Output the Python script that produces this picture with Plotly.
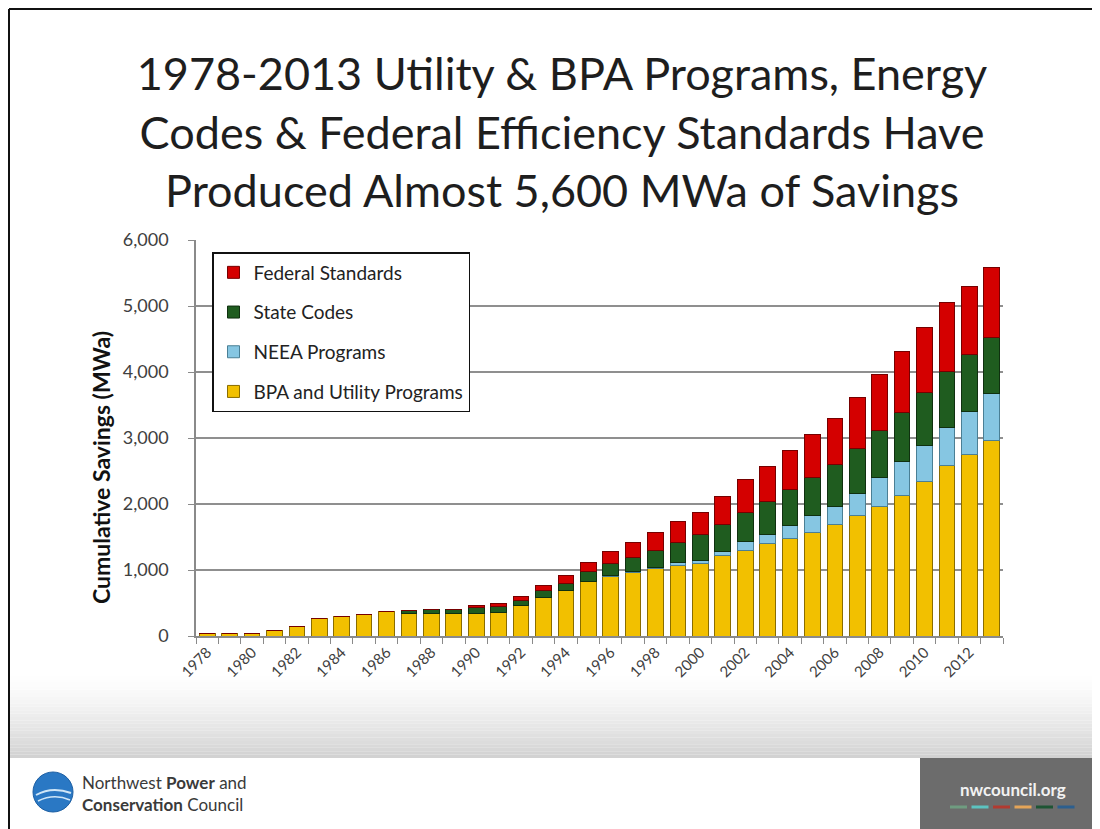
import plotly.graph_objects as go

# the page body adds an 8px margin, so the figure is drawn 8px smaller and shifted
OFF = 8
W, H = 1100 - OFF, 829 - OFF

years = list(range(1978, 2014))
bpa_utility = [35, 40, 45, 90, 150, 265, 300, 330, 365, 345, 345, 345,
               340, 360, 467, 580, 685, 820, 895, 955, 1020, 1075, 1100, 1220,
               1295, 1395, 1470, 1575, 1685, 1825, 1960, 2125, 2340, 2580, 2745, 2965]
neea = [0, 0, 0, 0, 0, 0, 0, 0, 0, 0, 0, 0,
        0, 0, 0, 5, 5, 10, 15, 20, 25, 35, 45, 65,
        140, 150, 210, 245, 275, 335, 440, 520, 540, 585, 650, 710]
state_codes = [0, 0, 0, 0, 0, 0, 0, 0, 0, 45, 50, 50,
               85, 90, 66, 100, 105, 140, 185, 220, 250, 310, 390, 410,
               440, 495, 540, 575, 645, 680, 715, 740, 815, 845, 865, 850]
federal = [0, 0, 0, 0, 0, 0, 0, 0, 0, 0, 0, 0,
           30, 45, 70, 85, 115, 150, 190, 225, 270, 320, 335, 420,
           490, 530, 595, 660, 690, 770, 845, 920, 980, 1045, 1030, 1055]

# name, values, fill, outline, legend position (top first)
series = [
    ("BPA and Utility Programs", bpa_utility, "#f2c000", "#8a6d00", 4),
    ("NEEA Programs", neea, "#86c6e2", "#4a7f95", 3),
    ("State Codes", state_codes, "#1f5c1f", "#0f300f", 2),
    ("Federal Standards", federal, "#d40000", "#760000", 1),
]


def px(x):
    return (x - OFF) / W


def py(y):
    return 1 - (y - OFF) / H


fig = go.Figure()
for name, vals, color, edge, rank in series:
    fig.add_trace(go.Bar(x=years, y=vals, name=name, legendgroup=name, legendrank=rank,
                         marker=dict(color=color, line=dict(color=edge, width=1))))

shapes = []
# grey fade behind the lower part of the slide
band_top, band_bot = 676, 758
steps = 24
for i in range(steps):
    y0 = band_top + (band_bot - band_top) * i / steps
    y1 = band_top + (band_bot - band_top) * (i + 1) / steps
    g = int(255 - 45 * ((i + 1) / steps) ** 1.4)
    shapes.append(dict(type="rect", xref="paper", yref="paper", layer="below",
                       x0=0, x1=1, y0=py(y1), y1=py(y0), line=dict(width=0),
                       fillcolor=f"rgb({g},{g},{g})"))
# footer box on the right
shapes.append(dict(type="rect", xref="paper", yref="paper", layer="below",
                   x0=px(920), x1=1, y0=0, y1=py(758), line=dict(width=0),
                   fillcolor="#6c6c6c"))
# coloured dashes under the web address
dash_colors = ["#6f9c80", "#5cc3c0", "#b23a30", "#e3a458", "#1e5534", "#2c5f8e"]
for i, c in enumerate(dash_colors):
    x0 = 950 + i * 21.5
    shapes.append(dict(type="line", xref="paper", yref="paper",
                       x0=px(x0), x1=px(x0 + 17), y0=py(807), y1=py(807),
                       line=dict(color=c, width=3)))
# logo disc
shapes.append(dict(type="circle", xref="paper", yref="paper",
                   x0=px(33), x1=px(73), y0=py(812), y1=py(772),
                   fillcolor="#2a78c4", line=dict(color="#1d5fa3", width=1)))
shapes.append(dict(type="path", xref="paper", yref="paper",
                   path=f"M {px(36)} {py(795)} Q {px(52)} {py(786)} {px(71)} {py(793)}",
                   line=dict(color="#cfe6f7", width=2)))
shapes.append(dict(type="path", xref="paper", yref="paper",
                   path=f"M {px(38)} {py(801)} Q {px(54)} {py(793)} {px(70)} {py(800)}",
                   line=dict(color="#cfe6f7", width=1.5)))
# slide frame
shapes.append(dict(type="line", xref="paper", yref="paper",
                   x0=px(9), x1=px(9), y0=0, y1=py(9), line=dict(color="#111", width=2)))
shapes.append(dict(type="line", xref="paper", yref="paper",
                   x0=px(9), x1=1, y0=py(9), y1=py(9), line=dict(color="#111", width=2)))

annotations = [
    dict(text="Cumulative Savings (MWa)", textangle=-90, x=px(101), y=py(468),
         xref="paper", yref="paper", showarrow=False, xanchor="center", yanchor="middle",
         font=dict(family="Lato", size=23, color="#111111", weight="bold")),
    dict(text="Northwest <b>Power</b> and<br><b>Conservation</b> Council",
         x=px(80), y=py(793), xref="paper", yref="paper", showarrow=False,
         xanchor="left", yanchor="middle", align="left",
         font=dict(family="Lato", size=17, color="#3a3a3a")),
    dict(text="<b>nwcouncil.org</b>", x=px(1013), y=py(789), xref="paper", yref="paper",
         showarrow=False, xanchor="center", yanchor="middle",
         font=dict(family="Lato", size=17, color="#f2f2f2")),
]

fig.update_layout(
    width=W, height=H, template="none",
    margin=dict(l=0, r=0, t=0, b=0),
    paper_bgcolor="white", plot_bgcolor="rgba(0,0,0,0)",
    barmode="stack", bargap=0.3,
    separators=".,",
    font=dict(family="Lato", color="#333333"),
    title=dict(text="1978-2013 Utility &amp; BPA Programs, Energy<br>"
                    "Codes &amp; Federal Efficiency Standards Have<br>"
                    "Produced Almost 5,600 MWa of Savings",
               x=px(562), xanchor="center", y=py(90), yanchor="top",
               font=dict(family="Lato", size=45, color="#1e1e1e")),
    xaxis=dict(domain=[px(196), px(1003)], range=[1977.5, 2013.5],
               tickvals=years[::2], ticktext=[str(y) for y in years[::2]],
               tickangle=-45, ticks="", tickfont=dict(family="Lato", size=15, color="#404040"),
               showline=True, linecolor="#8a8a8a", linewidth=1.5, showgrid=False,
               zeroline=False, automargin=False,
               minor=dict(tick0=1977.5, dtick=1, ticks="outside", ticklen=6,
                          tickcolor="#8a8a8a", showgrid=False)),
    yaxis=dict(domain=[py(636), py(240)], range=[0, 6000], dtick=1000,
               tickformat=",d", tickfont=dict(family="Lato", size=18, color="#404040"),
               ticks="outside", ticklen=6,
               tickcolor="#8a8a8a", showline=True, linecolor="#8a8a8a", linewidth=1.5,
               showgrid=True, gridcolor="#8f8f8f", gridwidth=1.5, zeroline=False,
               automargin=False, ticklabelstandoff=16),
    legend=dict(x=px(212), y=py(252), xanchor="left", yanchor="top",
                traceorder="grouped", tracegroupgap=12,
                bgcolor="white", bordercolor="#111111", borderwidth=1.5,
                font=dict(family="Lato", size=19, color="#222222")),
    shapes=shapes,
    annotations=annotations,
)

fig.write_html("out.html")
